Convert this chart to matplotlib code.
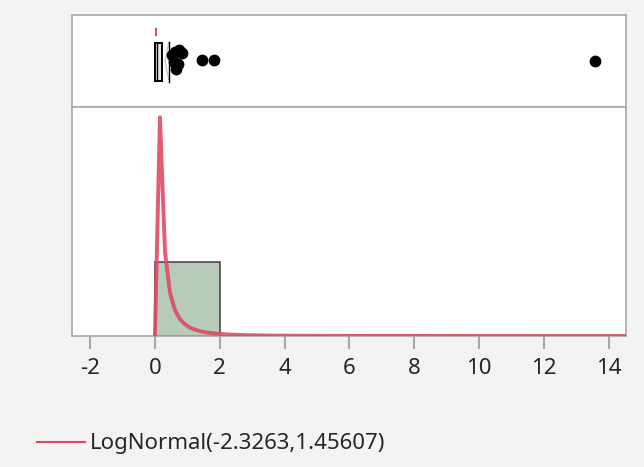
import numpy as np
import matplotlib
matplotlib.use("Agg")
import matplotlib.pyplot as plt
from matplotlib.patches import Rectangle, Polygon
from matplotlib.lines import Line2D

plt.rcParams['font.family'] = ['Noto Sans', 'DejaVu Sans']

# fitted distribution
mu, sigma = -2.3263, 1.45607
fit_label = "LogNormal(-2.3263,1.45607)"

# histogram - single populated bin, height on the curve's scale
hist_edges = [0, 2]
hist_height = [0.57]

# box plot summary
q1, median, q3 = 0.01, 0.06, 0.22
short_half = (0.0, 0.06)
mean_line = 0.43

# individual points shown above the box plot (value, jitter)
pts_x = [0.53, 0.59, 0.62, 0.65, 0.72, 0.75, 0.84, 1.46, 1.83, 13.57]
pts_y = [0.56, 0.49, 0.60, 0.41, 0.47, 0.62, 0.59, 0.51, 0.51, 0.50]

xticks = [-2, 0, 2, 4, 6, 8, 10, 12, 14]
xmin, xmax = -2.56, 14.54

red = '#dd4b63'
border = '#a8a8a8'

fig = plt.figure(figsize=(6.44, 4.67), dpi=100)
fig.patch.set_facecolor('#f3f3f3')

left, width = 72 / 644, 554 / 644
ax_box = fig.add_axes([left, 1 - 107 / 467, width, 92 / 467])
ax_hist = fig.add_axes([left, 1 - 336 / 467, width, 229 / 467], sharex=ax_box)

for ax in (ax_box, ax_hist):
    ax.set_facecolor('white')
    for sp in ax.spines.values():
        sp.set_color(border)
        sp.set_linewidth(1.2)
    ax.set_yticks([])

# --- box plot panel ---
ax_box.set_ylim(0, 1)
ax_box.tick_params(axis='x', bottom=False, labelbottom=False)
ax_box.add_patch(Polygon([[mean_line, 0.71], [mean_line - 0.12, 0.5], [mean_line, 0.29]],
                         closed=False, fill=False, edgecolor='#c8c8c8', lw=1.0, zorder=2))
ax_box.add_patch(Rectangle((q1, 0.28), q3 - q1, 0.42, facecolor='#e6e6e6',
                           edgecolor='black', lw=1.4, zorder=3))
ax_box.plot([median, median], [0.28, 0.70], color='black', lw=1.0, zorder=4)
ax_box.plot([mean_line, mean_line], [0.27, 0.71], color='black', lw=1.0, zorder=4)
ax_box.plot(short_half, [0.82, 0.82], color=red, lw=6, solid_capstyle='butt', zorder=4)
ax_box.scatter(pts_x, pts_y, s=72, color='black', zorder=5, linewidths=0)

# --- histogram panel ---
ax_hist.bar(hist_edges[:-1], hist_height, width=np.diff(hist_edges), align='edge',
            color='#b8cab8', edgecolor='#4a4a4a', lw=1.2, zorder=2)

xs = np.arange(0, xmax + 0.2, 0.155)
pdf = np.zeros_like(xs)
pos = xs > 0
pdf[pos] = np.exp(-(np.log(xs[pos]) - mu) ** 2 / (2 * sigma ** 2)) / (xs[pos] * sigma * np.sqrt(2 * np.pi))
ax_hist.plot(xs, pdf, color=red, lw=2.8, zorder=3, alpha=0.9)
ax_hist.set_ylim(0, 1.76)

ax_hist.set_xlim(xmin, xmax)
ax_hist.set_xticks(xticks)
ax_hist.set_xticklabels([str(t) for t in xticks])
ax_hist.tick_params(axis='x', length=9, width=1.5, color=border, labelsize=16,
                    labelcolor='#262626', pad=7)

# legend below
handle = Line2D([], [], color=red, lw=1.5)
fig.legend([handle], [fit_label], loc='center left', bbox_to_anchor=(37 / 644, 1 - 444 / 467),
           frameon=False, fontsize=16, handlelength=2.15, handletextpad=0.25,
           borderaxespad=0, borderpad=0, labelcolor='#262626')

fig.savefig('out.png', dpi=100, facecolor=fig.get_facecolor())
